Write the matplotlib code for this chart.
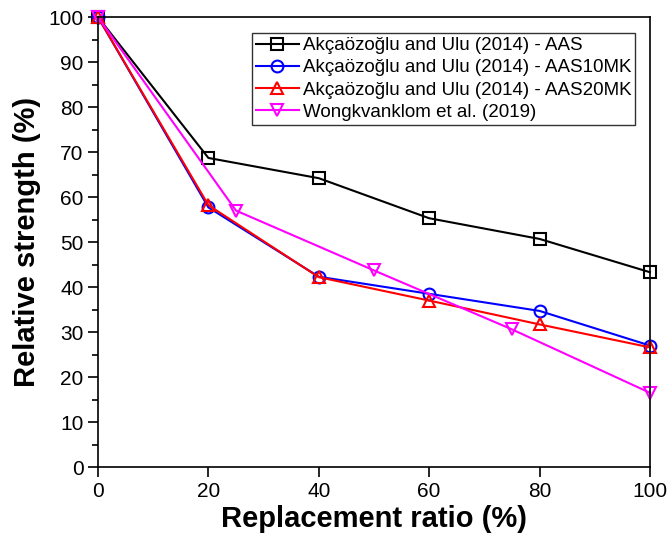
import numpy as np
import matplotlib
matplotlib.use("Agg")
import matplotlib.pyplot as plt
from matplotlib.ticker import MultipleLocator

plt.rcParams["font.family"] = ["Liberation Sans", "DejaVu Sans"]

x_ak = [0, 20, 40, 60, 80, 100]
aas = [100, 68.7, 64.2, 55.3, 50.7, 43.3]
aas10mk = [100, 57.7, 42.3, 38.5, 34.7, 27.0]
aas20mk = [100, 58.2, 42.2, 37.0, 31.7, 26.6]
x_wk = [0, 25, 50, 75, 100]
wongk = [100, 57.0, 43.7, 30.6, 16.5]

labels = ["Akçaözoğlu and Ulu (2014) - AAS",
          "Akçaözoğlu and Ulu (2014) - AAS10MK",
          "Akçaözoğlu and Ulu (2014) - AAS20MK",
          "Wongkvanklom et al. (2019)"]

fig = plt.figure(figsize=(6.69, 5.44), dpi=100)
ax = fig.add_axes([0.1465, 0.1415, 0.825, 0.827])

ms = 8.5
ax.plot(x_ak, aas, "k-s", lw=1.5, ms=ms - 0.5, mfc="none", mew=1.5, label=labels[0], clip_on=False)
ax.plot(x_ak, aas10mk, "-o", color="blue", lw=1.5, ms=ms, mfc="none", mew=1.5, label=labels[1], clip_on=False)
ax.plot(x_ak, aas20mk, "-^", color="red", lw=1.5, ms=ms + 0.5, mfc="none", mew=1.5, label=labels[2], clip_on=False)
ax.plot(x_wk, wongk, "-v", color="magenta", lw=1.5, ms=ms + 0.5, mfc="none", mew=1.5, label=labels[3], clip_on=False)

ax.set_xlim(0, 100)
ax.set_ylim(0, 100)
ax.xaxis.set_major_locator(MultipleLocator(20))
ax.yaxis.set_major_locator(MultipleLocator(10))
ax.yaxis.set_minor_locator(MultipleLocator(5))
ax.tick_params(axis="both", which="major", direction="out", length=7, width=1.2, labelsize=15)
ax.tick_params(axis="y", which="minor", direction="out", length=4, width=1.2)
for s in ax.spines.values():
    s.set_linewidth(1.2)

ax.set_xlabel("Replacement ratio (%)", fontsize=21, fontweight="bold", labelpad=3)
ax.set_ylabel("Relative strength (%)", fontsize=21, fontweight="bold", labelpad=5)

leg = ax.legend(loc="upper right", bbox_to_anchor=(0.973, 0.964), fontsize=13.5,
                frameon=True, fancybox=False, edgecolor="black", handlelength=2.3,
                borderpad=0.2, labelspacing=0.27, handletextpad=0.2, borderaxespad=0)
leg.get_frame().set_linewidth(1.0)

fig.savefig("out.png", dpi=100)
